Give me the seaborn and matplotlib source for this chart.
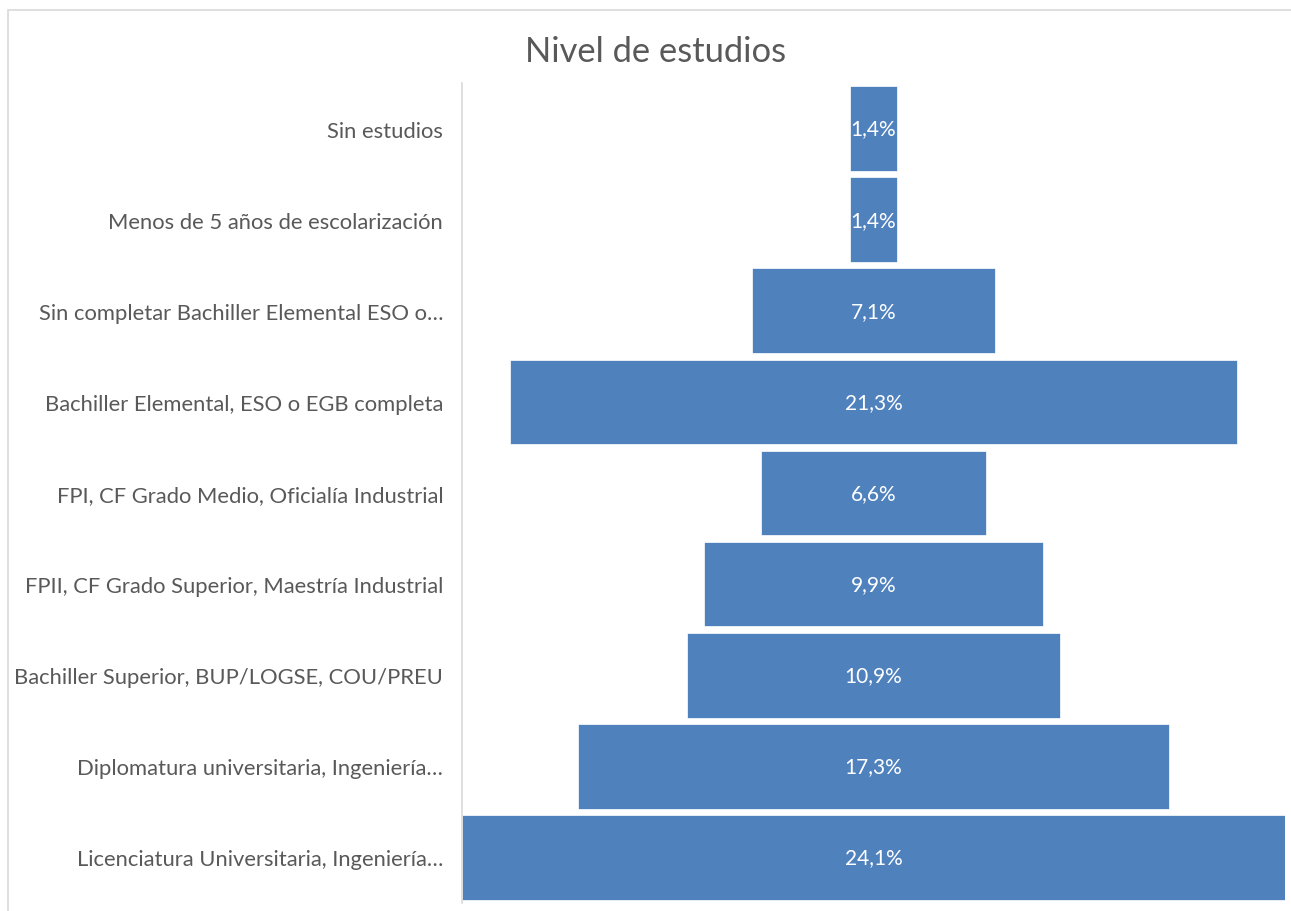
import matplotlib
matplotlib.use("Agg")
import matplotlib.pyplot as plt
from matplotlib.patches import Rectangle
import seaborn as sns
import pandas as pd

categorias = [
    "Sin estudios",
    "Menos de 5 años de escolarización",
    "Sin completar Bachiller Elemental ESO o…",
    "Bachiller Elemental, ESO o EGB completa",
    "FPI, CF Grado Medio, Oficialía Industrial",
    "FPII, CF Grado Superior, Maestría Industrial",
    "Bachiller Superior, BUP/LOGSE, COU/PREU",
    "Diplomatura universitaria, Ingeniería…",
    "Licenciatura Universitaria, Ingeniería…",
]
porcentajes = [1.4, 1.4, 7.1, 21.3, 6.6, 9.9, 10.9, 17.3, 24.1]
etiquetas = ["1,4%", "1,4%", "7,1%", "21,3%", "6,6%", "9,9%", "10,9%", "17,3%", "24,1%"]

sns.set_theme(style="white")
plt.rcParams["font.family"] = ["Lato", "DejaVu Sans"]

W, H = 1291, 912
fig = plt.figure(figsize=(W / 100, H / 100), dpi=100)
ax = fig.add_axes([462 / W, 1 - 904 / H, (1285 - 462) / W, (904 - 84) / H])

df = pd.DataFrame({"nivel": categorias, "pct": porcentajes})
sns.barplot(data=df, x="pct", y="nivel", orient="h", color="#4F81BD",
            saturation=1, width=0.93, ax=ax)

# centre each bar around the midpoint of the widest one (funnel layout)
maximo = max(porcentajes)
for patch, v, txt in zip(ax.patches, porcentajes, etiquetas):
    patch.set_x((maximo - v) / 2)
    patch.set_edgecolor("#FFFFFF")
    patch.set_linewidth(0.5)
    cy = patch.get_y() + patch.get_height() / 2
    ax.text(maximo / 2, cy, txt, ha="center", va="center",
            color="white", fontsize=15)

ax.set_xlim(0, maximo)
ax.set_ylim(len(categorias) - 0.5, -0.5)
ax.set_xlabel("")
ax.set_ylabel("")
ax.set_xticks([])
ax.tick_params(axis="y", length=0, pad=13.5, labelsize=15.8, labelcolor="#595959")
for s in ["top", "right", "bottom"]:
    ax.spines[s].set_visible(False)
ax.spines["left"].set_color("#D9D9D9")
ax.spines["left"].set_linewidth(1.2)

fig.text(656 / W, 1 - 52 / H, "Nivel de estudios", ha="center", va="center",
         fontsize=24.8, color="#595959")

# chart area frame
fig.patches.append(Rectangle((8 / W, -0.05), 1.1, 1 - 11 / H + 0.05,
                             transform=fig.transFigure, fill=False,
                             edgecolor="#D9D9D9", linewidth=1.2))

fig.savefig("out.png", dpi=100, facecolor="white")
